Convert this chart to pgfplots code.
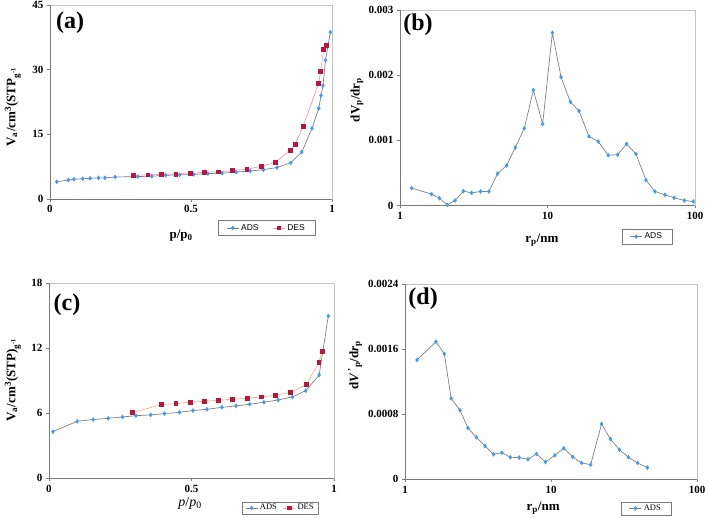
\documentclass[border=0pt]{standalone}
\usepackage{pgfplots}
\pgfplotsset{compat=1.18}
\usepackage{fontspec}
\setmainfont{Liberation Serif}
\newfontfamily\legsans{Liberation Sans}
\definecolor{adsline}{HTML}{808080}
\definecolor{adsmark}{HTML}{3D9BFF}
\definecolor{desmark}{HTML}{C0143C}
\definecolor{deslineA}{HTML}{F19CB0}
\definecolor{deslineC}{HTML}{F7B38A}
\definecolor{framec}{HTML}{C4C4C4}
\definecolor{axisdark}{HTML}{7A7A7A}
\pgfplotsset{
  panel/.style={
    scale only axis, anchor=south west, clip=false,
    axis line style={draw=framec, line width=0.6pt},
    tick style={draw=axisdark, line width=0.6pt},
    tick align=outside, tick pos=left,
    major tick length=3pt,
    ticklabel style={font=\bfseries\fontsize{11}{12}\selectfont},
    xlabel style={font=\bfseries\fontsize{13}{15}\selectfont, anchor=center},
    ylabel style={font=\bfseries\fontsize{13}{15}\selectfont, anchor=center},
    scaled ticks=false,
    legend columns=2,
    legend cell align=left,
    legend image code/.code={\draw[mark repeat=2,mark phase=2] plot coordinates {(0pt,0pt) (6pt,0pt) (12pt,0pt)};},
  },
  ads/.style={color=adsline, line width=0.7pt, mark=diamond*, mark size=1.8pt, mark options={draw=adsmark, fill=adsmark}},
  desA/.style={color=deslineA, line width=0.7pt, mark=square*, mark size=1.9pt, mark options={draw=desmark, fill=desmark}},
  desC/.style={color=deslineC, line width=0.7pt, mark=square*, mark size=1.9pt, mark options={draw=desmark, fill=desmark}},
}
\newcommand{\darkleftbottom}{\draw[axisdark, line width=0.8pt] (rel axis cs:0,1) -- (rel axis cs:0,0) -- (rel axis cs:1,0);}
\begin{document}
\begin{tikzpicture}
\path[use as bounding box] (0,0) rectangle (709pt,518pt);
% (a)
\begin{axis}[panel, at={(50pt,319pt)}, width=282pt, height=194pt,
  xmin=0, xmax=1, ymin=0, ymax=45,
  xtick={0,0.5,1}, xticklabels={0,0.5,1},
  ytick={0,15,30,45}, yticklabels={0,15,30,45},
  xlabel={p/p\textsubscript{0}},
  xlabel style={at={(axis description cs:0.465,-0.191)}},
  ylabel={V\textsubscript{a}/cm\textsuperscript{3}(STP\textsubscript{g\textsuperscript{-1}}},
  ylabel style={at={(axis description cs:-0.131,0.474)}},
  legend style={at={(axis description cs:0.768,-0.149)}, anchor=center, draw=axisdark, line width=0.5pt,
    font=\legsans\fontsize{8.5}{10}\selectfont, inner xsep=8pt, inner ysep=2pt,
    /tikz/every even column/.append style={column sep=12pt}},
]
\addplot[ads] coordinates {
(0.024,4.0) (0.065,4.4) (0.085,4.6) (0.116,4.7) (0.142,4.8) (0.172,4.9) (0.195,4.9) (0.231,5.1)
(0.311,5.2) (0.361,5.3) (0.41,5.5) (0.46,5.6) (0.51,5.7) (0.56,5.9) (0.61,6.0) (0.66,6.25)
(0.71,6.5) (0.757,6.8) (0.805,7.3) (0.854,8.4) (0.893,10.9) (0.929,16.4) (0.953,21.0)
(0.961,24.0) (0.968,26.3) (0.977,32.2) (0.994,38.7)};
\addlegendentry{ADS}
\addplot[desA] coordinates {
(0.296,5.5) (0.347,5.6) (0.396,5.7) (0.446,5.8) (0.497,5.9) (0.547,6.2) (0.598,6.3) (0.647,6.6)
(0.698,6.9) (0.749,7.6) (0.799,8.5) (0.852,11.3) (0.869,12.7) (0.897,16.8) (0.953,26.8)
(0.96,29.7) (0.97,34.7) (0.98,35.7)};
\addlegendentry{DES}
\darkleftbottom
\node[font=\bfseries\fontsize{24}{26}\selectfont] at (rel axis cs:0.071,0.907) {(a)};
\end{axis}
% (b)
\begin{axis}[panel, at={(400pt,312.5pt)}, width=295pt, height=195.5pt,
  xmode=log, xmin=1, xmax=100, ymin=0, ymax=0.003, xminorticks=false,
  xtick={1,10,100}, xticklabels={1,10,100},
  ytick={0,0.001,0.002,0.003}, yticklabels={0,0.001,0.002,0.003},
  xlabel={r\textsubscript{p}/nm},
  xlabel style={at={(axis description cs:0.481,-0.176)}},
  ylabel={dV\textsubscript{p}/dr\textsubscript{p}},
  ylabel style={at={(axis description cs:-0.146,0.54)}},
  legend style={at={(axis description cs:0.837,-0.159)}, anchor=center, draw=axisdark, line width=0.5pt,
    font=\legsans\fontsize{8.5}{10}\selectfont, inner xsep=8pt, inner ysep=2pt},
]
\addplot[ads] coordinates {
(1.2,0.000266) (1.64,0.000174) (1.85,0.000112) (2.09,0.00001) (2.36,0.000077) (2.69,0.00022)
(3.06,0.000194) (3.52,0.000215) (4.01,0.000215) (4.59,0.00049) (5.28,0.000613) (6.05,0.00089)
(6.96,0.001186) (8.02,0.00177) (9.27,0.00125) (10.79,0.00265) (12.35,0.00197) (14.28,0.00159)
(16.36,0.00145) (19.1,0.00106) (22.1,0.00098) (25.8,0.00077) (29.9,0.00078) (34.4,0.000945)
(39.8,0.00079) (46.5,0.00039) (53.5,0.000215) (62.6,0.000164) (72.1,0.000118) (84.7,0.000077)
(97.4,0.000061)};
\addlegendentry{ADS}
\darkleftbottom
\node[font=\bfseries\fontsize{24}{26}\selectfont] at (rel axis cs:0.061,0.923) {(b)};
\end{axis}
% (c)
\begin{axis}[panel, at={(49pt,39.7pt)}, width=285pt, height=195pt,
  xmin=0, xmax=1, ymin=0, ymax=18,
  xtick={0,0.5,1}, xticklabels={0,0.5,1},
  ytick={0,6,12,18}, yticklabels={0,6,12,18},
  xlabel={\mdseries\textit{p}/\textit{p}\textsubscript{0}},
  xlabel style={at={(axis description cs:0.495,-0.127)}, font=\fontsize{14}{16}\selectfont},
  ylabel={V\textsubscript{a}/cm\textsuperscript{3}(STP)\textsubscript{g\textsuperscript{-1}}},
  ylabel style={at={(axis description cs:-0.126,0.504)}},
  legend style={at={(axis description cs:0.812,-0.152)}, anchor=center, draw=axisdark, line width=0.5pt,
    font=\fontsize{8.5}{10}\selectfont, inner xsep=3pt, inner ysep=0.5pt,
    /tikz/every even column/.append style={column sep=4pt}},
]
\addplot[ads] coordinates {
(0.014,4.31) (0.099,5.26) (0.155,5.42) (0.208,5.54) (0.258,5.66) (0.305,5.78) (0.357,5.85)
(0.405,5.97) (0.458,6.09) (0.505,6.25) (0.554,6.37) (0.607,6.55) (0.656,6.68) (0.704,6.83)
(0.754,7.02) (0.804,7.23) (0.854,7.51) (0.901,8.09) (0.948,9.54) (0.98,14.98)};
\addlegendentry{ADS}
\addplot[desC] coordinates {
(0.293,6.06) (0.393,6.8) (0.445,6.89) (0.495,7.02) (0.545,7.11) (0.594,7.2) (0.644,7.29)
(0.695,7.38) (0.745,7.51) (0.795,7.66) (0.846,7.91) (0.903,8.65) (0.947,10.68) (0.958,11.75)};
\addlegendentry{DES}
\darkleftbottom
\node[font=\bfseries\fontsize{24}{26}\selectfont] at (rel axis cs:0.063,0.889) {(c)};
\end{axis}
% (d)
\begin{axis}[panel, at={(405pt,38.7pt)}, width=292pt, height=195pt,
  xmode=log, xmin=1, xmax=100, ymin=0, ymax=0.0024, xminorticks=false,
  xtick={1,10,100}, xticklabels={1,10,100},
  ytick={0,0.0008,0.0016,0.0024}, yticklabels={0,0.0008,0.0016,0.0024},
  xlabel={r\textsubscript{p}/nm},
  xlabel style={at={(axis description cs:0.473,-0.147)}},
  ylabel={d\textit{V}\textsuperscript{\,'}\textsubscript{p}/d\textit{r}\textsubscript{p}},
  ylabel style={at={(axis description cs:-0.171,0.586)}},
  legend style={at={(axis description cs:0.825,-0.149)}, anchor=center, draw=axisdark, line width=0.5pt,
    font=\fontsize{8.5}{10}\selectfont, inner xsep=8pt, inner ysep=1pt},
]
\addplot[ads] coordinates {
(1.21,0.001469) (1.63,0.001694) (1.86,0.001543) (2.07,0.000997) (2.38,0.000849) (2.70,0.000632)
(3.08,0.000517) (3.53,0.00041) (4.04,0.000308) (4.61,0.000328) (5.26,0.000271) (6.06,0.000267)
(6.95,0.000246) (7.96,0.000312) (9.17,0.000213) (10.62,0.000295) (12.24,0.000382) (14.1,0.000275)
(16.2,0.000201) (18.7,0.000181) (22.2,0.000681) (25.5,0.000496) (29.4,0.000365) (33.9,0.000271)
(39.1,0.000201) (45.7,0.000144)};
\addlegendentry{ADS}
\darkleftbottom
\node[font=\bfseries\fontsize{24}{26}\selectfont] at (rel axis cs:0.062,0.925) {(d)};
\end{axis}
\end{tikzpicture}
\end{document}
